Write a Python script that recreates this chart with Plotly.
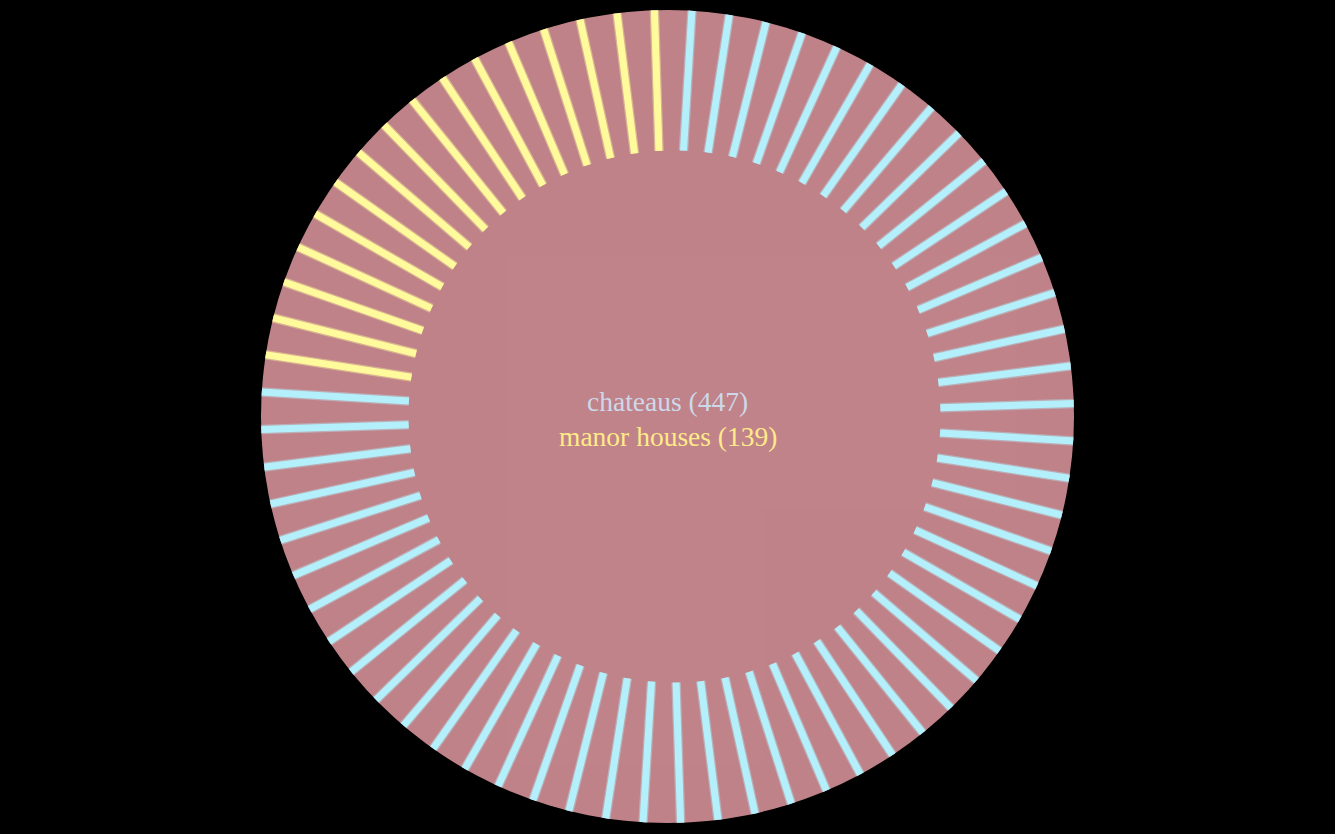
import math
import plotly.graph_objects as go

# ---- data ----
categories = ["chateaus", "manor houses"]
counts = [447, 139]
colors = ["#b3f0fb", "#fffb9c"]
text_colors = ["#cdd9ea", "#ffea8a"]
n_spokes = 68

# ---- geometry (styles) ----
disk_color = "#c08389"
r_outer = 1.02
ring_radius = 266 / 406.5
ring_shift = 7 / 406.5
angle_offset = 0.8

total = sum(counts)
spoke_counts = [round(n_spokes * c / total) for c in counts]
spoke_counts[0] = n_spokes - sum(spoke_counts[1:])
step = 360.0 / n_spokes


def inner_r(theta_deg):
    s = math.sin(math.radians(theta_deg))
    return ring_shift * s + math.sqrt(ring_shift ** 2 * s * s - ring_shift ** 2 + ring_radius ** 2)


fig = go.Figure()
k = 0
for cat, cnt, col in zip(categories, spoke_counts, colors):
    rr, tt = [], []
    for _ in range(cnt):
        th = (k + 0.5) * step + angle_offset
        rr += [inner_r(th), r_outer, None]
        tt += [th, th, None]
        k += 1
    # soft halo
    fig.add_trace(go.Scatterpolar(r=rr, theta=tt, mode="lines",
                                  line=dict(color=col, width=9.5), opacity=0.4,
                                  hoverinfo="skip", showlegend=False))
    fig.add_trace(go.Scatterpolar(r=rr, theta=tt, mode="lines",
                                  line=dict(color=col, width=7),
                                  name=cat, hoverinfo="skip", showlegend=False))

fig.update_layout(
    width=1335, height=834,
    margin=dict(l=0, r=0, t=0, b=0),
    paper_bgcolor="black",
    plot_bgcolor="black",
    showlegend=False,
    polar=dict(
        domain=dict(x=[0, 1], y=[1 - 823 / 834, 1 - 10 / 834]),
        bgcolor=disk_color,
        radialaxis=dict(range=[0, 1], visible=False, showgrid=False),
        angularaxis=dict(visible=False, showgrid=False, direction="clockwise",
                         rotation=90, showline=False, ticks=""),
    ),
)

label_y = [1 - 401 / 834, 1 - 437 / 834]
for cat, cnt, tc, yy in zip(categories, counts, text_colors, label_y):
    fig.add_annotation(x=0.5, y=yy, xref="paper", yref="paper",
                       text=f"{cat} ({cnt})", showarrow=False,
                       font=dict(family="Liberation Serif, serif", size=27.5, color=tc),
                       xanchor="center", yanchor="middle")

fig.write_html("out.html")
